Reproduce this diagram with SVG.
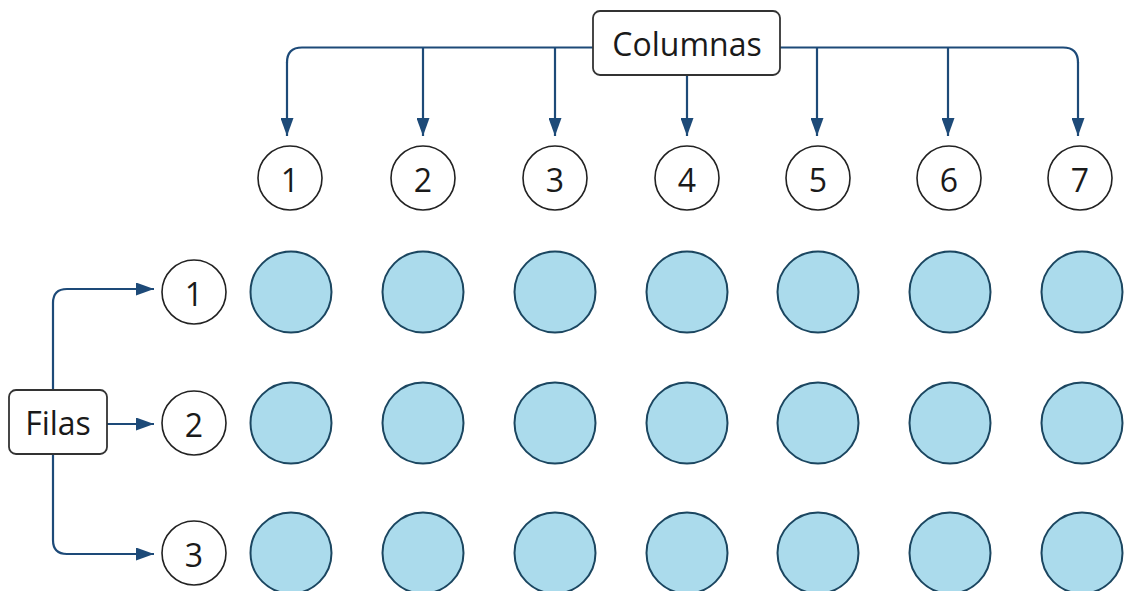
<svg xmlns="http://www.w3.org/2000/svg" width="1126" height="591" viewBox="0 0 1126 591">
<defs>
<marker id="ah" viewBox="0 0 18 13" refX="18" refY="6.5" markerWidth="18" markerHeight="13" markerUnits="userSpaceOnUse" orient="auto">
<path d="M0,0 L18,6.5 L0,13 Z" fill="#1d4a78"/>
</marker>
<style>
.conn{fill:none;stroke:#1d4a78;stroke-width:2.2;marker-end:url(#ah)}
.line{fill:none;stroke:#1d4a78;stroke-width:2.2}
.box{fill:#fff;stroke:#333;stroke-width:1.8}
.num{fill:#fff;stroke:#222;stroke-width:1.6}
.dot{fill:#abdbec;stroke:#1b4660;stroke-width:2}
text{font-family:"Open Sans","Noto Sans",sans-serif;font-size:32px;fill:#1a1a1a;text-anchor:middle;dominant-baseline:central}
.lbl{font-size:32px}
</style>
</defs>
<rect width="1126" height="591" fill="#fff"/>
<g id="connectors">
<path class="line" d="M593,47.5 H302 Q287,47.5 287,62.5"/>
<path class="conn" d="M287,62 V136"/>
<path class="conn" d="M423,47.5 V136"/>
<path class="conn" d="M555,47.5 V136"/>
<path class="conn" d="M687,75 V136"/>
<path class="line" d="M780,47.5 H1063 Q1078,47.5 1078,62.5"/>
<path class="conn" d="M817,47.5 V136"/>
<path class="conn" d="M948,47.5 V136"/>
<path class="conn" d="M1078,62 V136"/>
<path class="conn" d="M53,390 V303 Q53,289 67,289 H154"/>
<path class="conn" d="M107,424 H154"/>
<path class="conn" d="M53,454 V540 Q53,554 67,554 H154"/>
</g>
<g id="columnas"><rect class="box" x="593" y="11" width="187" height="64" rx="7"/><text class="lbl" x="687" y="43">Columnas</text></g>
<g id="filas"><rect class="box" x="9" y="390" width="98" height="64" rx="7"/><text class="lbl" x="58" y="422">Filas</text></g>
<g id="col1"><circle class="num" cx="290" cy="178" r="32"/><text x="290" y="179">1</text></g>
<g id="col2"><circle class="num" cx="423" cy="178" r="32"/><text x="423" y="179">2</text></g>
<g id="col3"><circle class="num" cx="555" cy="178" r="32"/><text x="555" y="179">3</text></g>
<g id="col4"><circle class="num" cx="687" cy="178" r="32"/><text x="687" y="179">4</text></g>
<g id="col5"><circle class="num" cx="818" cy="178" r="32"/><text x="818" y="179">5</text></g>
<g id="col6"><circle class="num" cx="949" cy="178" r="32"/><text x="949" y="179">6</text></g>
<g id="col7"><circle class="num" cx="1080" cy="178" r="32"/><text x="1080" y="179">7</text></g>
<g id="row1"><circle class="num" cx="194" cy="292" r="32"/><text x="194" y="293">1</text></g>
<g id="row2"><circle class="num" cx="194" cy="423" r="32"/><text x="194" y="424">2</text></g>
<g id="row3"><circle class="num" cx="194" cy="553" r="32"/><text x="194" y="554">3</text></g>
<g id="grid">
<g id="r1">
<circle class="dot" cx="291" cy="292" r="40.5"/><circle class="dot" cx="423" cy="292" r="40.5"/><circle class="dot" cx="555" cy="292" r="40.5"/><circle class="dot" cx="687" cy="292" r="40.5"/><circle class="dot" cx="818" cy="292" r="40.5"/><circle class="dot" cx="950" cy="292" r="40.5"/><circle class="dot" cx="1082" cy="292" r="40.5"/>
</g>
<g id="r2">
<circle class="dot" cx="291" cy="423" r="40.5"/><circle class="dot" cx="423" cy="423" r="40.5"/><circle class="dot" cx="555" cy="423" r="40.5"/><circle class="dot" cx="687" cy="423" r="40.5"/><circle class="dot" cx="818" cy="423" r="40.5"/><circle class="dot" cx="950" cy="423" r="40.5"/><circle class="dot" cx="1082" cy="423" r="40.5"/>
</g>
<g id="r3">
<circle class="dot" cx="291" cy="553" r="40.5"/><circle class="dot" cx="423" cy="553" r="40.5"/><circle class="dot" cx="555" cy="553" r="40.5"/><circle class="dot" cx="687" cy="553" r="40.5"/><circle class="dot" cx="818" cy="553" r="40.5"/><circle class="dot" cx="950" cy="553" r="40.5"/><circle class="dot" cx="1082" cy="553" r="40.5"/>
</g>
</g>
</svg>
